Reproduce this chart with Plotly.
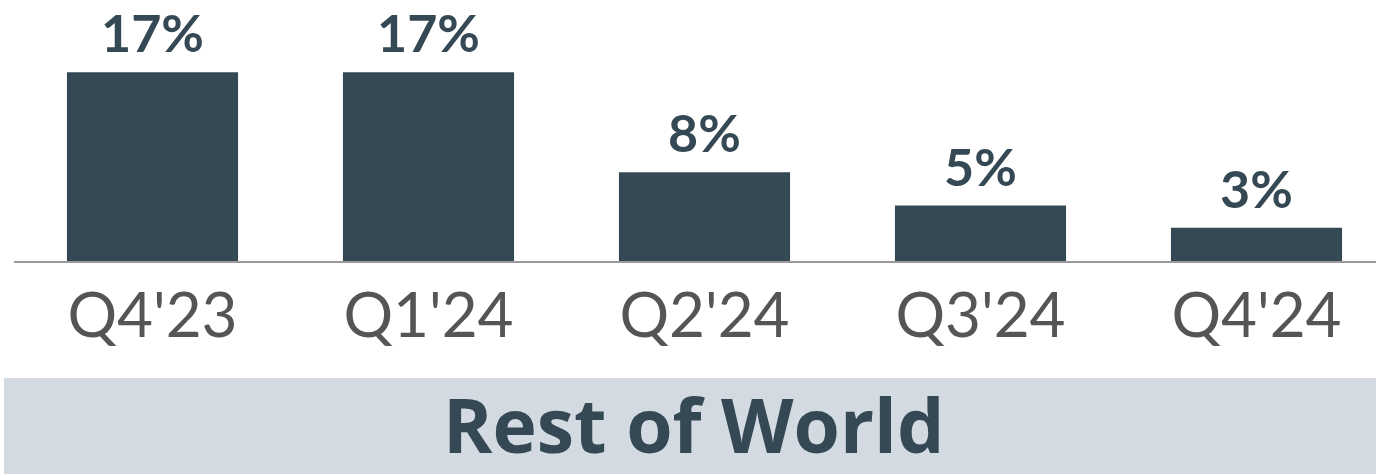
import plotly.graph_objects as go

quarters = ["Q4'23", "Q1'24", "Q2'24", "Q3'24", "Q4'24"]
growth = [17, 17, 8, 5, 3]
labels = ["17%", "17%", "8%", "5%", "3%"]
region = "Rest of World"

BAR = '#354954'
W, H = 1376, 474
L, T, B = 14, 0, 213

fig = go.Figure()
fig.add_trace(go.Bar(
    x=list(range(len(quarters))), y=growth,
    marker=dict(color=BAR, line=dict(width=0)),
    width=0.62,
))

# value labels above bars
for i, (v, lab) in enumerate(zip(growth, labels)):
    fig.add_annotation(x=i, y=v, text=lab, showarrow=False,
                       xanchor='center', yanchor='bottom', yshift=7,
                       font=dict(family='Lato', size=52, color=BAR, weight='bold'))

# band with region name under the axis
fig.add_shape(type='rect', xref='paper', yref='paper',
              x0=(4 - L) / (W - L), x1=1.0,
              y0=(261 - 474) / 261, y1=(261 - 378) / 261,
              fillcolor='#d3dae1', line_width=0, layer='below')
fig.add_annotation(text=region, xref='paper', yref='paper',
                   x=(693 - L) / (W - L), y=(261 - 424) / 261,
                   showarrow=False, xanchor='center', yanchor='middle',
                   font=dict(family='Open Sans', size=75, color=BAR, weight='bold'))

fig.update_layout(
    width=W, height=H,
    margin=dict(l=L, r=0, t=T, b=B, pad=0),
    plot_bgcolor='white', paper_bgcolor='white',
    showlegend=False,
    xaxis=dict(
        tickmode='array', tickvals=list(range(len(quarters))), ticktext=quarters,
        range=[(L - 152.5) / 276, (W - 152.5) / 276],
        showgrid=False, zeroline=False,
        showline=True, linecolor='#9a9a9a', linewidth=2,
        ticks='', ticklabelstandoff=0,
        tickfont=dict(family='Lato', size=62, color='#555555'),
    ),
    yaxis=dict(range=[0, 261 / 11.1], visible=False, fixedrange=True),
)

fig.write_html("out.html", config={'displayModeBar': False},
               post_script="document.body.style.margin='0';")
